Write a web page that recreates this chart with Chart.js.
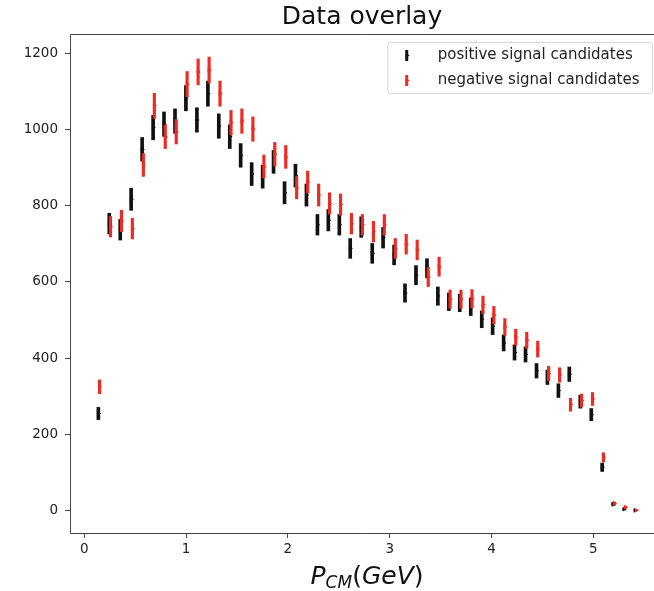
<!DOCTYPE html>
<html lang="en">
<head>
<meta charset="UTF-8">
<title>Data overlay</title>
<script src="https://cdn.jsdelivr.net/npm/chart.js"></script>
<style>
  html, body { margin: 0; padding: 0; background: #fff; }
  #wrap { width: 654px; height: 591px; }
</style>
</head>
<body>
<div id="wrap"><canvas id="chart"></canvas></div>
<script>
// bin centres in P_CM (GeV)
const pcm = [0.138, 0.245, 0.353, 0.460, 0.568, 0.676, 0.783, 0.891, 0.998, 1.106,
             1.214, 1.321, 1.429, 1.536, 1.644, 1.752, 1.859, 1.967, 2.074, 2.182,
             2.290, 2.397, 2.505, 2.612, 2.720, 2.828, 2.935, 3.043, 3.150, 3.258,
             3.366, 3.473, 3.581, 3.688, 3.796, 3.904, 4.011, 4.119, 4.226, 4.334,
             4.442, 4.549, 4.657, 4.764, 4.872, 4.980, 5.087, 5.195, 5.302, 5.410];

// positive signal candidates (counts and error)
const posCounts = [255, 753, 737, 817, 948, 1005, 1014, 1022, 1082, 1025,
                   1094, 1009, 981, 932, 883, 876, 915, 834, 879, 828,
                   750, 762, 750, 688, 744, 675, 716, 671, 571, 618,
                   636, 563, 548, 545, 535, 502, 484, 440, 415, 410,
                   367, 350, 315, 358, 286, 252, 114, 17, 4, 1];
const posErr = [16, 27, 27, 29, 31, 32, 32, 32, 33, 32,
                33, 32, 31, 31, 30, 30, 30, 29, 30, 29,
                27, 28, 27, 26, 27, 26, 27, 26, 24, 25,
                25, 24, 23, 23, 23, 22, 22, 21, 20, 20,
                19, 19, 18, 19, 17, 16, 11, 4, 2, 1];

// negative signal candidates (counts and error)
const negCounts = [325, 745, 760, 740, 907, 1062, 981, 994, 1119, 1151,
                   1156, 1094, 1018, 1022, 1001, 903, 935, 928, 847, 862,
                   828, 806, 803, 753, 750, 732, 750, 688, 699, 684,
                   613, 640, 555, 555, 556, 540, 513, 482, 455, 447,
                   424, 360, 356, 278, 289, 293, 140, 19, 9, 1];
const negErr = [18, 27, 28, 27, 30, 33, 31, 32, 33, 34,
                34, 33, 32, 32, 32, 30, 31, 30, 29, 29,
                29, 28, 28, 27, 27, 27, 27, 26, 26, 26,
                25, 25, 24, 24, 24, 23, 23, 22, 21, 21,
                21, 19, 19, 17, 17, 17, 12, 4, 3, 1];

const seriesNames = ['positive signal candidates', 'negative signal candidates'];
const xTicks = [0, 1, 2, 3, 4, 5];
const yTicks = [0, 200, 400, 600, 800, 1000, 1200];

const BLACK = '#111111';
const RED = '#ee2b22';
const FONT = '"DejaVu Sans", sans-serif';
const NEG_SHIFT = 0.012; // red series drawn slightly to the right
const X_MID = 2.777;     // middle of the full axis range (right side is cut off in the figure)

function errBars(counts, err, shift) {
  return counts.map((c, i) => ({ x: pcm[i] + shift, y: [c - err[i], c + err[i]] }));
}
function centres(counts, shift) {
  return counts.map((c, i) => ({ x: pcm[i] + shift, y: c }));
}

// plot frame: left, top, bottom spines (right one falls outside the picture)
const frame = {
  id: 'frame',
  afterDraw(chart) {
    const { ctx, chartArea: a } = chart;
    const l = Math.round(a.left) + 0.5, t = Math.round(a.top) + 0.5, b = Math.round(a.bottom) + 0.5;
    ctx.save();
    ctx.strokeStyle = '#444';
    ctx.lineWidth = 1;
    ctx.beginPath();
    ctx.moveTo(a.right, t);
    ctx.lineTo(l, t);
    ctx.lineTo(l, b);
    ctx.lineTo(a.right, b);
    ctx.stroke();
    ctx.restore();
  }
};

// x axis title with subscript: P_CM(GeV)
const xTitle = {
  id: 'xTitle',
  afterDraw(chart) {
    const { ctx } = chart;
    const parts = [
      { t: 'P', f: 'italic 25px ' + FONT, dy: 0 },
      { t: 'CM', f: 'italic 17px ' + FONT, dy: 4 },
      { t: '(', f: '25px ' + FONT, dy: 0 },
      { t: 'GeV', f: 'italic 25px ' + FONT, dy: 0 },
      { t: ')', f: '25px ' + FONT, dy: 0 }
    ];
    ctx.save();
    let total = 0;
    parts.forEach(p => { ctx.font = p.f; p.w = ctx.measureText(p.t).width; total += p.w; });
    let x = chart.scales.x.getPixelForValue(X_MID) - total / 2;
    const base = 584;
    ctx.fillStyle = BLACK;
    ctx.textBaseline = 'alphabetic';
    parts.forEach(p => {
      ctx.font = p.f;
      ctx.fillText(p.t, x, base + p.dy);
      x += p.w;
    });
    ctx.restore();
  }
};

// legend box inside the plot, upper right
const legendBox = {
  id: 'legendBox',
  afterDraw(chart) {
    const { ctx, chartArea: a } = chart;
    ctx.save();
    ctx.font = '15px ' + FONT;
    const textW = Math.max(...seriesNames.map(s => ctx.measureText(s).width));
    const right = 652.5, top = a.top + 8.5;
    const w = 50 + textW + 13, h = 51;
    const left = right - w;
    const r = 3;
    ctx.beginPath();
    ctx.moveTo(left + r, top);
    ctx.lineTo(right - r, top);
    ctx.arcTo(right, top, right, top + r, r);
    ctx.lineTo(right, top + h - r);
    ctx.arcTo(right, top + h, right - r, top + h, r);
    ctx.lineTo(left + r, top + h);
    ctx.arcTo(left, top + h, left, top + h - r, r);
    ctx.lineTo(left, top + r);
    ctx.arcTo(left, top, left + r, top, r);
    ctx.closePath();
    ctx.fillStyle = 'rgba(255,255,255,0.85)';
    ctx.fill();
    ctx.strokeStyle = '#d6d6d6';
    ctx.lineWidth = 1;
    ctx.stroke();
    [BLACK, RED].forEach((col, i) => {
      const cy = top + 13 + i * 25;
      const mx = left + 19;
      ctx.fillStyle = col;
      ctx.fillRect(mx - 1.5, cy - 5.5, 3, 11);
      ctx.beginPath();
      ctx.moveTo(mx + 3, cy);
      ctx.lineTo(mx - 1, cy - 2.2);
      ctx.lineTo(mx - 1, cy + 2.2);
      ctx.closePath();
      ctx.fill();
      ctx.fillStyle = '#222';
      ctx.textBaseline = 'middle';
      ctx.fillText(seriesNames[i], mx + 31, cy);
    });
    ctx.restore();
  }
};

const ctx = document.getElementById('chart').getContext('2d');
new Chart(ctx, {
  type: 'scatter',
  data: {
    datasets: [
      { type: 'scatter', label: seriesNames[1], data: centres(negCounts, NEG_SHIFT),
        pointStyle: 'triangle', rotation: 90, pointRadius: 2.8, borderWidth: 0,
        backgroundColor: RED, order: 0 },
      { type: 'bar', label: seriesNames[1] + ' err', data: errBars(negCounts, negErr, NEG_SHIFT),
        backgroundColor: RED, barThickness: 2.5, grouped: false, borderWidth: 0, order: 1 },
      { type: 'scatter', label: seriesNames[0], data: centres(posCounts, 0),
        pointStyle: 'triangle', rotation: 90, pointRadius: 2.8, borderWidth: 0,
        backgroundColor: BLACK, order: 2 },
      { type: 'bar', label: seriesNames[0] + ' err', data: errBars(posCounts, posErr, 0),
        backgroundColor: BLACK, barThickness: 3, grouped: false, borderWidth: 0, order: 3 }
    ]
  },
  options: {
    responsive: true,
    maintainAspectRatio: false,
    animation: false,
    events: [],
    layout: { autoPadding: false, padding: 0 },
    plugins: {
      legend: { display: false },
      tooltip: { enabled: false },
      title: {
        display: true,
        text: 'Data overlay',
        fullSize: false,
        color: BLACK,
        font: { family: FONT, size: 25, weight: 'normal', lineHeight: 1.2 },
        padding: { top: 2, bottom: 2 }
      }
    },
    scales: {
      x: {
        type: 'linear',
        min: -0.1405,
        max: 5.596,
        offset: false,
        afterBuildTicks: s => { s.ticks = xTicks.map(v => ({ value: v })); },
        afterFit: s => { s.height = 58; },
        ticks: { color: '#222', font: { family: FONT, size: 13.5 }, padding: 3, maxRotation: 0,
                 callback: v => String(v) },
        grid: { display: true, offset: false, drawOnChartArea: false, drawTicks: true,
                tickLength: 5, color: '#444' },
        border: { display: false }
      },
      y: {
        type: 'linear',
        min: -58.5,
        max: 1250.5,
        afterBuildTicks: s => { s.ticks = yTicks.map(v => ({ value: v })); },
        afterFit: s => { s.width = 70; },
        ticks: { color: '#222', font: { family: FONT, size: 13.5 }, padding: 7,
                 callback: v => String(v) },
        grid: { display: true, drawOnChartArea: false, drawTicks: true,
                tickLength: 5, color: '#444' },
        border: { display: false }
      }
    }
  },
  plugins: [frame, xTitle, legendBox]
});
</script>
</body>
</html>
